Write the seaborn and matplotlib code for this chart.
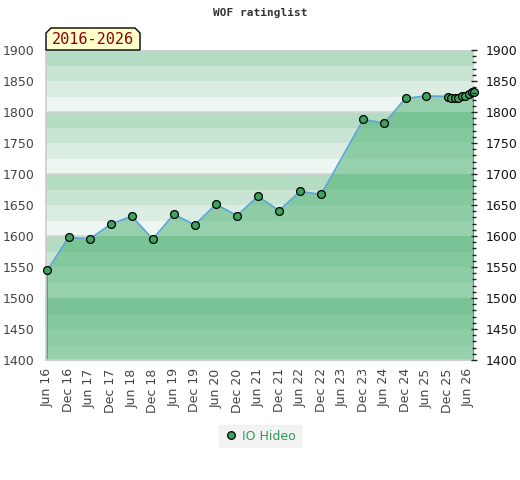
import pandas as pd
import numpy as np
import matplotlib
matplotlib.use("Agg")
import matplotlib.pyplot as plt
from matplotlib.patches import Polygon
from matplotlib.lines import Line2D
from matplotlib.ticker import MultipleLocator
import seaborn as sns

# rating list entries (date, rating)
dates = [
    "2016-06-01", "2016-12-01", "2017-06-01", "2017-12-01", "2018-06-01",
    "2018-12-01", "2019-06-01", "2019-12-01", "2020-06-01", "2020-12-01",
    "2021-06-01", "2021-12-01", "2022-06-01", "2022-12-01", "2023-12-01",
    "2024-06-01", "2024-12-01", "2025-06-01", "2025-12-01", "2026-01-01",
    "2026-02-01", "2026-03-01", "2026-04-01", "2026-05-01", "2026-06-01",
    "2026-07-01", "2026-07-15",
]
ratings = [
    1545, 1598, 1595, 1619, 1632,
    1595, 1635, 1618, 1651, 1633,
    1664, 1641, 1672, 1667, 1788,
    1782, 1822, 1826, 1825, 1823,
    1822, 1823, 1826, 1826, 1829,
    1832, 1833,
]
player = "IO Hideo"

tick_dates = pd.date_range("2016-06-01", "2026-06-01", freq="6MS")
tick_labels = [d.strftime("%b %y") for d in tick_dates]

df = pd.DataFrame({"date": pd.to_datetime(dates), "rating": ratings})

sns.set_theme(style="white")
plt.rcParams["font.family"] = ["DejaVu Sans"]

W, H = 520, 480
fig = plt.figure(figsize=(W / 100, H / 100), dpi=100)
ax = fig.add_axes([46 / W, 120 / H, 428 / W, 310 / H])

ymin, ymax = 1400, 1900
band_cols = ["#eef6f1", "#dbede2", "#c8e5d3", "#b3dcc3"]
for i, lo in enumerate(range(ymin, ymax, 25)):
    ax.axhspan(lo, lo + 25, color=band_cols[i % 4], lw=0, zorder=0)

# region above the curve, used to keep the 100-lines out of the filled area
above = ax.fill_between(df["date"], df["rating"], ymax, alpha=0, lw=0)
for lvl in range(ymin + 100, ymax + 1, 100):
    gl = ax.axhline(lvl, color="#d4d4d4", lw=1.2, zorder=0.5)
    gl.set_clip_path(above.get_paths()[0], above.get_transform())

ax.fill_between(df["date"], df["rating"], ymin, color="#41ac69", alpha=0.5,
                lw=0, zorder=1)
ax.vlines([df["date"].iloc[0], df["date"].iloc[-1]], ymin,
          [df["rating"].iloc[0], df["rating"].iloc[-1]],
          color="#2f9a55", lw=1.2, zorder=2)

sns.lineplot(data=df, x="date", y="rating", ax=ax, color="#5ba3db", lw=1.2,
             zorder=3)
sns.scatterplot(data=df, x="date", y="rating", ax=ax, color="#3da35d",
                edgecolor="black", linewidth=0.9, s=32, zorder=4, clip_on=False)

ax.set_xlim(pd.Timestamp("2016-05-19"), pd.Timestamp("2026-07-18"))
ax.set_ylim(ymin, ymax)
ax.set_xlabel("")
ax.set_ylabel("")
ax.set_xticks(tick_dates)
ax.set_xticklabels(tick_labels, rotation=90, fontsize=9, color="#444444")
ax.set_yticks(range(ymin, ymax + 1, 50))
ax.tick_params(axis="y", labelsize=9, labelcolor="#444444", length=0, pad=8)
ax.tick_params(axis="x", length=0, pad=6)
for s in ["top", "right"]:
    ax.spines[s].set_visible(False)
for s in ["left", "bottom"]:
    ax.spines[s].set_color("#cccccc")
    ax.spines[s].set_linewidth(1.2)

ax2 = ax.twinx()
ax2.set_ylim(ymin, ymax)
ax2.yaxis.set_major_locator(MultipleLocator(50))
ax2.yaxis.set_minor_locator(MultipleLocator(10))
ax2.tick_params(axis="y", which="major", direction="inout", length=5,
                width=1, color="#222222", labelsize=9, labelcolor="#111111",
                pad=6)
ax2.tick_params(axis="y", which="minor", direction="inout", length=3.5,
                width=1, color="#222222")
for s in ax2.spines.values():
    s.set_visible(False)

fig.text(260 / W, 1 - 13 / H, "WOF ratinglist", ha="center", va="center",
         fontsize=8, fontweight="bold", family="DejaVu Sans Mono",
         color="#333333")

# period tag above the plot
tag = [(46, 50), (46, 33), (51, 28), (135, 28), (140, 33), (140, 50)]
fig.patches.append(Polygon([(x / W, 1 - y / H) for x, y in tag], closed=True,
                           transform=fig.transFigure, facecolor="#ffffcc",
                           edgecolor="black", lw=1, zorder=5))
fig.text(93 / W, 1 - 40 / H, "2016-2026", ha="center", va="center",
         fontsize=11, family="DejaVu Sans Mono", color="#8b0000", zorder=6)

handle = Line2D([], [], ls="none", marker="o", markersize=5.5,
                markerfacecolor="#3da35d", markeredgecolor="black",
                markeredgewidth=0.9)
fig.legend([handle], [player], loc="center", bbox_to_anchor=(260 / W, 1 - 436 / H),
           frameon=True, facecolor="#f0f0f0", edgecolor="#f0f0f0",
           fancybox=False, fontsize=9, labelcolor="#2e9a55",
           handletextpad=0.3, borderpad=0.35, handlelength=1.2)

fig.savefig("out.png", dpi=100)
